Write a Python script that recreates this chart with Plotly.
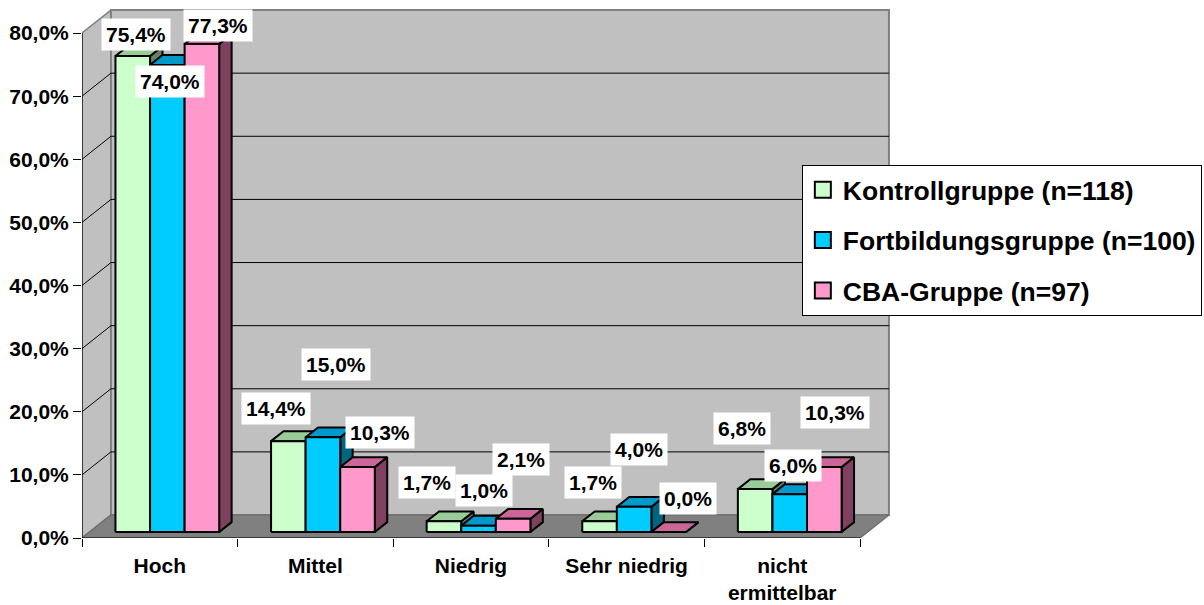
import plotly.graph_objects as go

# ---- data ----
categories = ["Hoch", "Mittel", "Niedrig", "Sehr niedrig", "nicht<br>ermittelbar"]
series_names = ["Kontrollgruppe (n=118)", "Fortbildungsgruppe (n=100)", "CBA-Gruppe (n=97)"]
kontrollgruppe = [75.4, 14.4, 1.7, 1.7, 6.8]
fortbildungsgruppe = [74.0, 15.0, 1.0, 4.0, 6.0]
cba_gruppe = [77.3, 10.3, 2.1, 0.0, 10.3]
y_ticks = [0, 10, 20, 30, 40, 50, 60, 70, 80]

series_values = [kontrollgruppe, fortbildungsgruppe, cba_gruppe]


def pct(v):
    return f"{v:.1f}".replace(".", ",") + "%"


y_tick_labels = [pct(v) for v in y_ticks]

# ---- styling ----
FRONT = ["#CCFFCC", "#00CCFF", "#FF99CC"]
TOP = ["#99CC99", "#0099CC", "#CC6699"]
SIDE = ["#668066", "#006680", "#804060"]
WALL = "#C0C0C0"
FLOOR = "#808080"
EDGE = "#808080"
FONT = "Liberation Sans, Arial, sans-serif"

# oblique depth of the chart box, in axis units (categories / percent)
DEPTH_X = 0.186
DEPTH_Y = 3.64
# bars sit between these fractions of the box depth
BAR_FRONT = 0.26
BAR_BACK = 0.69
# bar width and side margin within one category slot (gap width 150 %)
BAR_W = 1 / 4.5
SLOT_MARGIN = 0.75 / 4.5

# pixel nudges for the value labels, per series and category
LABEL_XSHIFT = [[-3, -19, -23, -13, -19],
                [-4, 7, -1, -1, -3],
                [10, 16, 2, 13, 4]]
LABEL_YSHIFT = [[17, 28, 34, 34, 56],
                [-22, 68, 30, 52, 24],
                [14, 30, 54, 29, 50]]

n_cat = len(categories)
y_top = y_ticks[-1]

fig = go.Figure()


def add_poly(polys, fill, line_color, line_width):
    xs, ys = [], []
    for pts in polys:
        for px, py in pts + [pts[0]]:
            xs.append(px)
            ys.append(py)
        xs.append(None)
        ys.append(None)
    fig.add_trace(go.Scatter(
        x=xs, y=ys, mode="lines", fill="toself", fillcolor=fill,
        line=dict(color=line_color, width=line_width),
        hoverinfo="skip", showlegend=False))


def add_lines(segs, color, width):
    xs, ys = [], []
    for (x0, y0), (x1, y1) in segs:
        xs += [x0, x1, None]
        ys += [y0, y1, None]
    fig.add_trace(go.Scatter(
        x=xs, y=ys, mode="lines", line=dict(color=color, width=width),
        hoverinfo="skip", showlegend=False))


# side wall, back wall, floor
add_poly([[(0, 0), (0, y_top), (DEPTH_X, y_top + DEPTH_Y), (DEPTH_X, DEPTH_Y)]],
         WALL, EDGE, 1.5)
add_poly([[(DEPTH_X, DEPTH_Y), (n_cat + DEPTH_X, DEPTH_Y),
           (n_cat + DEPTH_X, y_top + DEPTH_Y), (DEPTH_X, y_top + DEPTH_Y)]],
         WALL, EDGE, 2)
add_poly([[(0, 0), (n_cat, 0), (n_cat + DEPTH_X, DEPTH_Y), (DEPTH_X, DEPTH_Y)]],
         FLOOR, "#707070", 1.5)

# gridlines on back and side walls
grid = [v for v in y_ticks if 0 < v < y_top]
add_lines([((DEPTH_X, v + DEPTH_Y), (n_cat + DEPTH_X, v + DEPTH_Y)) for v in grid], "black", 1)
add_lines([((0, v), (DEPTH_X, v + DEPTH_Y)) for v in grid], "black", 1)

# front axis lines
add_lines([((0, 0), (0, y_top)), ((0, 0), (n_cat, 0))], "black", 1.2)

# 3D columns
fx = BAR_FRONT * DEPTH_X
fy = BAR_FRONT * DEPTH_Y
dx = (BAR_BACK - BAR_FRONT) * DEPTH_X
dy = (BAR_BACK - BAR_FRONT) * DEPTH_Y

for s, values in enumerate(series_values):
    sides, tops, fronts = [], [], []
    for c, v in enumerate(values):
        x0 = c + SLOT_MARGIN + s * BAR_W + fx
        x1 = x0 + BAR_W
        b = fy
        t = fy + v
        sides.append([(x1, b), (x1, t), (x1 + dx, t + dy), (x1 + dx, b + dy)])
        tops.append([(x0, t), (x1, t), (x1 + dx, t + dy), (x0 + dx, t + dy)])
        fronts.append([(x0, b), (x1, b), (x1, t), (x0, t)])
    add_poly(sides, SIDE[s], "black", 2)
    add_poly(tops, TOP[s], "black", 2)
    add_poly(fronts, FRONT[s], "black", 2)

# value labels
for s, values in enumerate(series_values):
    for c, v in enumerate(values):
        ax = c + SLOT_MARGIN + s * BAR_W + fx + BAR_W / 2 + dx / 2
        ay = fy + v + dy / 2
        fig.add_annotation(
            x=ax, y=ay, xref="x", yref="y", showarrow=False,
            text=pct(v),
            font=dict(family=FONT, size=21, color="black", weight="bold"),
            bgcolor="white", borderpad=4,
            xshift=LABEL_XSHIFT[s][c], yshift=LABEL_YSHIFT[s][c])

# legend entries
for s, name in enumerate(series_names):
    fig.add_trace(go.Scatter(
        x=[None], y=[None], mode="markers", name=name, legendgroup=name,
        marker=dict(symbol="square", size=16, color=FRONT[s],
                    line=dict(color="black", width=2))))

fig.update_layout(
    width=1204, height=605,
    margin=dict(l=82, r=304, t=5, b=67, autoexpand=False),
    paper_bgcolor="white", plot_bgcolor="white",
    font=dict(family=FONT, size=21, color="black", weight="bold"),
    showlegend=True,
    legend=dict(
        x=0.880, y=0.70, xanchor="left", yanchor="top",
        bgcolor="white", bordercolor="black", borderwidth=1,
        font=dict(family=FONT, size=26.5, color="black", weight="bold"),
        tracegroupgap=13, itemsizing="trace"),
    xaxis=dict(
        range=[0, 5.257], showgrid=False, zeroline=False, showline=False,
        automargin=False,
        tickmode="array", tickvals=[c + 0.5 for c in range(n_cat)],
        ticktext=categories, ticks="", ticklabelstandoff=13,
        tickfont=dict(family=FONT, size=21, color="black", weight="bold"),
        minor=dict(tickmode="array", tickvals=list(range(n_cat + 1)),
                   ticks="outside", ticklen=8, tickcolor="black", tickwidth=1),
        fixedrange=True),
    yaxis=dict(
        range=[0, 84.44], showgrid=False, zeroline=False, showline=False,
        automargin=False,
        tickmode="array", tickvals=y_ticks, ticktext=y_tick_labels,
        ticks="outside", ticklen=8, tickcolor="black", tickwidth=1,
        tickfont=dict(family=FONT, size=21, color="black", weight="bold"),
        fixedrange=True),
)

fig.write_html("out.html")
